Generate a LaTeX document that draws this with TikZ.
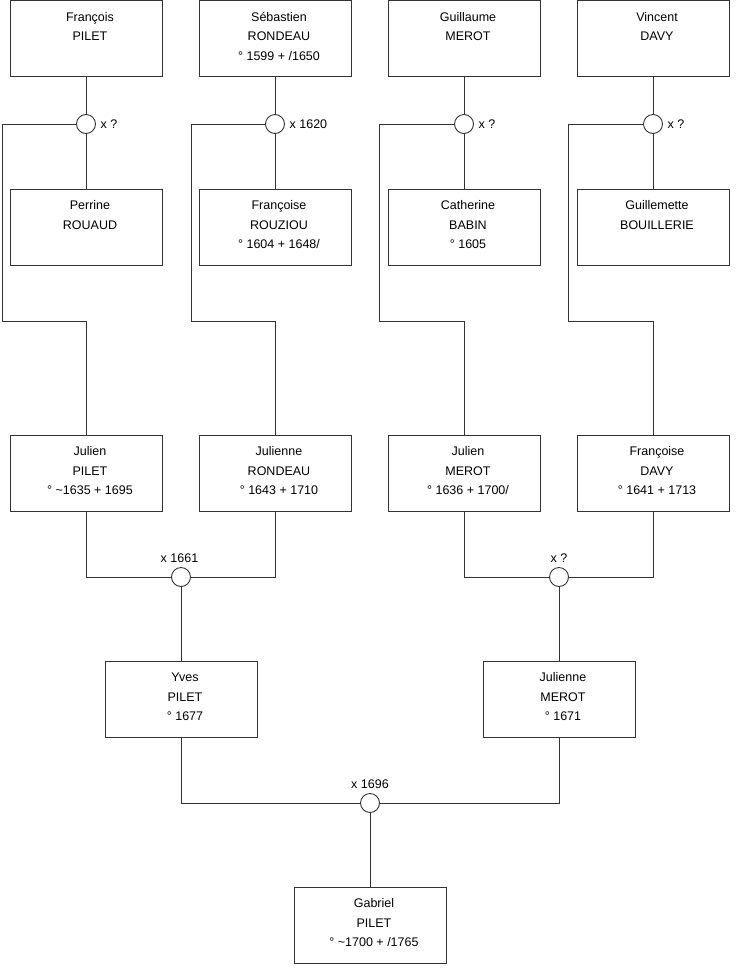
\documentclass[tikz,border=0pt]{standalone}
\usepackage{fontspec}
\setmainfont{Liberation Sans}
\begin{document}
\begin{tikzpicture}[x=1pt,y=-1pt,
  person/.style={draw=black!80, line width=0.9pt, minimum width=152pt, minimum height=76pt, inner sep=0pt},
  nm/.style={align=center, font=\fontsize{12.5}{19.5}\selectfont, anchor=north, inner sep=0pt},
  mar/.style={circle, draw=black!80, line width=0.9pt, fill=white, minimum size=19pt, inner sep=0pt},
  lbl/.style={font=\fontsize{12.5}{15}\selectfont, inner sep=0pt},
  ln/.style={draw=black!80, line width=0.9pt}]
\useasboundingbox (0,0) rectangle (740,975);
\newcommand\pbox[4]{%
  \node[person] (#1) at (#2+76,#3+38) {};
  \node[nm] (#1-t) at (#2+80,#3+7) {\strut #4};}
% row 1
\pbox{fp}{10}{0.5}{François\\PILET}
\pbox{sr}{199}{0.5}{Sébastien\\RONDEAU\\° 1599 + /1650}
\pbox{gm}{388}{0.5}{Guillaume\\MEROT}
\pbox{vd}{577}{0.5}{Vincent\\DAVY}
% row 2
\pbox{pr}{10}{189}{Perrine\\ROUAUD}
\pbox{fr}{199}{189}{Françoise\\ROUZIOU\\° 1604 + 1648/}
\pbox{cb}{388}{189}{Catherine\\BABIN\\° 1605}
\pbox{gb}{577}{189}{Guillemette\\BOUILLERIE}
% row 3
\pbox{jp}{10}{435}{Julien\\PILET\\° \textasciitilde1635 + 1695}
\pbox{jr}{199}{435}{Julienne\\RONDEAU\\° 1643 + 1710}
\pbox{jm}{388}{435}{Julien\\MEROT\\° 1636 + 1700/}
\pbox{fd}{577}{435}{Françoise\\DAVY\\° 1641 + 1713}
% row 4
\pbox{yp}{105}{661}{Yves\\PILET\\° 1677}
\pbox{jmm}{483}{661}{Julienne\\MEROT\\° 1671}
% row 5
\pbox{gp}{294}{887}{Gabriel\\PILET\\° \textasciitilde1700 + /1765}
% marriage circles
\node[mar] (m1) at (86,124) {};
\node[mar] (m2) at (275,124) {};
\node[mar] (m3) at (464,124) {};
\node[mar] (m4) at (653,124) {};
\node[mar] (m5) at (181,577) {};
\node[mar] (m6) at (559,577) {};
\node[mar] (m7) at (370,803) {};
% corner coordinates
\coordinate (k1) at (2,321);
\coordinate (k2) at (191,321);
\coordinate (k3) at (379,321);
\coordinate (k4) at (568,321);
% connectors
\draw[ln] (fp) -- (m1) -- (pr);
\draw[ln] (sr) -- (m2) -- (fr);
\draw[ln] (gm) -- (m3) -- (cb);
\draw[ln] (vd) -- (m4) -- (gb);
\draw[ln] (m1) -| (k1) -| (jp);
\draw[ln] (m2) -| (k2) -| (jr);
\draw[ln] (m3) -| (k3) -| (jm);
\draw[ln] (m4) -| (k4) -| (fd);
\draw[ln] (jp) |- (m5) -| (jr);
\draw[ln] (jm) |- (m6) -| (fd);
\draw[ln] (m5) -- (yp);
\draw[ln] (m6) -- (jmm);
\draw[ln] (yp) |- (m7) -| (jmm);
\draw[ln] (m7) -- (gp);
% labels
\node[lbl, anchor=west, xshift=4.5pt] (l1) at (m1.east) {x ?};
\node[lbl, anchor=west, xshift=4.5pt] (l2) at (m2.east) {x 1620};
\node[lbl, anchor=west, xshift=4.5pt] (l3) at (m3.east) {x ?};
\node[lbl, anchor=west, xshift=4.5pt] (l4) at (m4.east) {x ?};
\node[lbl, anchor=base, yshift=4.5pt, xshift=-1.5pt] (l5) at (m5.north) {x 1661};
\node[lbl, anchor=base, yshift=4.5pt] (l6) at (m6.north) {x ?};
\node[lbl, anchor=base, yshift=4.5pt] (l7) at (m7.north) {x 1696};
\end{tikzpicture}
\end{document}
